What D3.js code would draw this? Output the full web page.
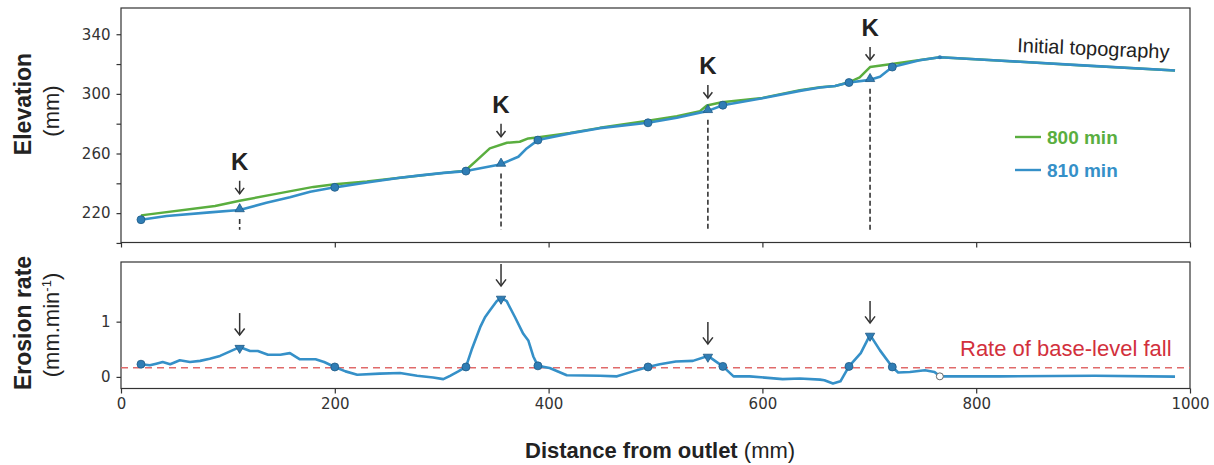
<!DOCTYPE html>
<html>
<head>
<meta charset="utf-8">
<script src="https://cdn.jsdelivr.net/npm/d3@7"></script>
<style>
body{margin:0;background:#fff;}
</style>
</head>
<body>
<script>
// distance (mm), elevation (mm)
var green800=[[18.7,218.5],[88,224.8],[111,228.3],[150,233.6],[180,237.6],[200,239.3],[230,241.2],[261,243.7],[280,245.3],[302,247],[322,248.4],[333,255.6],[345,263.4],[361,267.2],[373,267.9],[381,270.1],[389,270.8],[420,273.7],[448,277.2],[493,282],[520,285],[541.6,288.4],[548,292.2],[562,294.4],[600,297.3],[635,302.5],[654,304.5],[668,305.3],[682,308],[691,311],[700.7,318],[721,320],[766,324.6],[820,322.4],[900,319.1],[986,315.7]]
var blue810=[[18.7,215.6],[42.7,218.1],[83,220.5],[111,222.1],[136,227],[158,230.6],[177,234.3],[200,237.3],[230,240.5],[261,243.7],[280,245.3],[302,247],[322.7,248.2],[354.5,252.6],[371.7,257.8],[379.5,263.4],[390,269],[420,273.5],[448,277],[493,280.6],[520,284],[549,288.6],[563,292.4],[600,297],[635,302],[654,304.3],[668,305.3],[681,307.6],[700.7,309.4],[710,311.5],[721.5,318],[747,322.6],[766,324.6],[820,322.4],[900,319.1],[986,315.7]]
var dots810=[[18.7,215.6],[200,237.3],[322.7,248.2],[390,269],[493,280.6],[563,292.4],[681,307.6],[721.5,318]]
var knickX=[111,355.5,549,700.7]
var knickElev=[222.1,252.6,288.6,309.4]
var knickTop=[228.3,266.5,292.5,318]
var crestPoint=[766,324.6]

// distance (mm), erosion rate (mm/min)
var rate810=[[18.7,0.23],[27,0.21],[33,0.24],[39,0.27],[46,0.23],[55,0.30],[64.5,0.27],[74,0.29],[83,0.33],[92.6,0.38],[111,0.54],[120.7,0.47],[128,0.47],[137.5,0.40],[149,0.40],[158,0.43],[167,0.32],[182,0.32],[190,0.27],[200,0.18],[210,0.10],[221,0.04],[242,0.06],[261,0.07],[277,0.02],[292,-0.01],[301.5,-0.04],[307.8,0.02],[315.5,0.10],[322.7,0.18],[328,0.49],[336,0.90],[340.5,1.08],[345,1.20],[351.4,1.37],[355.5,1.43],[360.8,1.37],[368.6,1.08],[376.3,0.78],[381,0.66],[385.7,0.37],[390,0.20],[401,0.16],[417,0.03],[448,0.02],[464,0.01],[479,0.10],[493,0.18],[504,0.23],[519,0.28],[535,0.29],[549,0.38],[563,0.19],[573,0.01],[588,0.01],[619,-0.04],[635,-0.03],[654,-0.05],[658,-0.06],[666,-0.12],[673,-0.08],[681,0.19],[692,0.43],[700.7,0.76],[710,0.48],[721.5,0.18],[727,0.08],[738,0.09],[752,0.12],[761,0.09],[766,0.01],[822,0.01],[911,0.02],[986,0.005]]
var rateDots=[[18.7,0.23],[200,0.18],[322.7,0.18],[390,0.20],[493,0.18],[563,0.19],[681,0.19],[721.5,0.18]]
var ratePeaks=[0.54,1.43,0.38,0.76]
var rateCrest=[766,0.01]
var baseLevelRate=0.165

var distTicks=[0,200,400,600,800,1000]
var elevTicks=[220,260,300,340]
var elevMinor=[200,240,280,320]
var rateTicks=[0,1]

var green="#5aae3f", blue="#3590c8", markFill="#2f7db5", markEdge="#1f5a85"
var ink="#333"

var W=1214,H=465
var svg=d3.select("body").append("svg").attr("width",W).attr("height",H)

var x=d3.scaleLinear().domain([0,1000]).range([121,1190])
var yTop=d3.scaleLinear().domain([200.3,357.6]).range([242.5,8])
var yBot=d3.scaleLinear().domain([-0.21,2.08]).range([388.5,262])

var lineTop=d3.line().x(function(d){return x(d[0])}).y(function(d){return yTop(d[1])})
var lineBot=d3.line().x(function(d){return x(d[0])}).y(function(d){return yBot(d[1])})

function frame(y0,y1){
  svg.append("rect").attr("x",x(0)).attr("y",y0).attr("width",x(1000)-x(0)).attr("height",y1-y0)
    .attr("fill","none").attr("stroke",ink).attr("stroke-width",1.2)
}

function styleAxis(g){
  g.select(".domain").remove()
  g.selectAll(".tick line").attr("stroke",ink).attr("stroke-width",1.2)
  g.selectAll(".tick text").attr("fill",ink).attr("font-family","DejaVu Sans").attr("font-size",15)
}

// top panel axes
svg.append("g").attr("transform","translate(121,0)")
  .call(d3.axisLeft(yTop).tickValues(elevTicks).tickSize(4.5).tickPadding(6).tickFormat(d3.format("d")))
  .call(styleAxis)
svg.append("g").attr("transform","translate(121,0)")
  .call(d3.axisLeft(yTop).tickValues(elevMinor).tickSize(4.5).tickFormat(""))
  .call(styleAxis)
svg.append("g").attr("transform","translate(0,242.5)")
  .call(d3.axisBottom(x).tickValues(distTicks).tickSize(5).tickFormat(""))
  .call(styleAxis)

// bottom panel axes
svg.append("g").attr("transform","translate(121,0)")
  .call(d3.axisLeft(yBot).tickValues(rateTicks).tickSize(4.5).tickPadding(6).tickFormat(d3.format("d")))
  .call(styleAxis)
svg.append("g").attr("transform","translate(0,388.5)")
  .call(d3.axisBottom(x).tickValues(distTicks).tickSize(5).tickPadding(5).tickFormat(d3.format("d")))
  .call(styleAxis)

frame(8,242.5)
frame(262,388.5)

// dashed knickpoint lines
svg.selectAll(".kdash").data(knickX).enter().append("line")
  .attr("x1",function(d){return x(d)}).attr("x2",function(d){return x(d)})
  .attr("y1",function(d,i){return yTop(knickElev[i])+9}).attr("y2",yTop(208.8))
  .attr("stroke",ink).attr("stroke-width",1.6).attr("stroke-dasharray","5,3")

// profiles
svg.append("path").datum(green800).attr("d",lineTop).attr("fill","none")
  .attr("stroke",green).attr("stroke-width",2.5).attr("stroke-linejoin","round")
svg.append("path").datum(blue810).attr("d",lineTop).attr("fill","none")
  .attr("stroke",blue).attr("stroke-width",2.6).attr("stroke-linejoin","round")

svg.selectAll(".tdot").data(dots810).enter().append("circle")
  .attr("cx",function(d){return x(d[0])}).attr("cy",function(d){return yTop(d[1])}).attr("r",4)
  .attr("fill",markFill).attr("stroke",markEdge).attr("stroke-width",0.8)
svg.selectAll(".ttri").data(knickX).enter().append("path")
  .attr("d",d3.symbol().type(d3.symbolTriangle).size(38))
  .attr("transform",function(d,i){return "translate("+x(d)+","+(yTop(knickElev[i])-1)+")"})
  .attr("fill",markFill).attr("stroke",markEdge).attr("stroke-width",0.8)
svg.append("circle").attr("cx",x(crestPoint[0])).attr("cy",yTop(crestPoint[1])).attr("r",2)
  .attr("fill",markFill)

// arrows
function arrow(px,tipY,len,head){
  svg.append("line").attr("x1",px).attr("x2",px).attr("y1",tipY-len).attr("y2",tipY)
    .attr("stroke",ink).attr("stroke-width",1.5)
  svg.append("path").attr("d","M"+(px-head)+","+(tipY-head*1.3)+"L"+px+","+tipY+"L"+(px+head)+","+(tipY-head*1.3))
    .attr("fill","none").attr("stroke",ink).attr("stroke-width",1.5)
}

knickX.forEach(function(k,i){
  var tip=yTop(knickTop[i])-7
  arrow(x(k),tip,13,4.5)
  svg.append("text").attr("x",x(k)).attr("y",tip-24).attr("text-anchor","middle")
    .attr("font-family","Liberation Sans, Arial").attr("font-weight","bold").attr("font-size",24)
    .attr("fill","#222").text("K")
})

// legend + labels in top panel
var legend=[["800 min",green,137],["810 min",blue,170]]
legend.forEach(function(l){
  svg.append("line").attr("x1",1015).attr("x2",1041).attr("y1",l[2]).attr("y2",l[2])
    .attr("stroke",l[1]).attr("stroke-width",2.4)
  svg.append("text").attr("x",1047).attr("y",l[2]+7).attr("font-family","Liberation Sans, Arial")
    .attr("font-weight","bold").attr("font-size",19).attr("fill",l[1]).text(l[0])
})
svg.append("text").attr("transform","translate(1017,52) rotate(2.5)")
  .attr("font-family","Liberation Sans, Arial").attr("font-size",20).attr("fill","#222")
  .text("Initial topography")

// bottom panel
svg.append("line").attr("x1",x(0)).attr("x2",x(1000)).attr("y1",yBot(baseLevelRate)).attr("y2",yBot(baseLevelRate))
  .attr("stroke","#e06a6a").attr("stroke-width",1.5).attr("stroke-dasharray","7,5")
svg.append("path").datum(rate810).attr("d",lineBot).attr("fill","none")
  .attr("stroke",blue).attr("stroke-width",2.6).attr("stroke-linejoin","round")
svg.selectAll(".bdot").data(rateDots).enter().append("circle")
  .attr("cx",function(d){return x(d[0])}).attr("cy",function(d){return yBot(d[1])}).attr("r",4)
  .attr("fill",markFill).attr("stroke",markEdge).attr("stroke-width",0.8)
svg.selectAll(".btri").data(knickX).enter().append("path")
  .attr("d",d3.symbol().type(d3.symbolTriangle).size(38))
  .attr("transform",function(d,i){return "translate("+x(d)+","+(yBot(ratePeaks[i])+1)+") rotate(180)"})
  .attr("fill",markFill).attr("stroke",markEdge).attr("stroke-width",0.8)
svg.append("circle").attr("cx",x(rateCrest[0])).attr("cy",yBot(rateCrest[1])).attr("r",3.5)
  .attr("fill","#fff").attr("stroke","#666").attr("stroke-width",1)

knickX.forEach(function(k,i){
  arrow(x(k),yBot(ratePeaks[i])-12,22,5)
})

svg.append("text").attr("x",960).attr("y",356).attr("font-family","Liberation Sans, Arial")
  .attr("font-size",22).attr("fill","#d2303c").text("Rate of base-level fall")

// axis titles
function vLabel(cx,cy,parts){
  var t=svg.append("text").attr("transform","translate("+cx+","+cy+") rotate(-90)")
    .attr("text-anchor","middle").attr("font-family","Liberation Sans, Arial").attr("fill","#222")
  parts.forEach(function(p){
    var s=t.append("tspan").text(p[0]).attr("font-size",p[1]).attr("font-weight",p[2]||"normal")
    if(p[3]) s.attr("dy",p[3])
  })
}
vLabel(31,104,[["Elevation",23,"bold"]])
vLabel(59,111,[["(mm)",22]])
vLabel(31,323,[["Erosion rate",23,"bold"]])
vLabel(59,325,[["(mm.min",22],["-1",13,"normal",-8],[")",22,"normal",8]])

var xl=svg.append("text").attr("x",525).attr("y",458).attr("font-family","Liberation Sans, Arial")
  .attr("font-size",22).attr("fill","#222")
xl.append("tspan").attr("font-weight","bold").text("Distance from outlet")
xl.append("tspan").text(" (mm)")
</script>
</body>
</html>
